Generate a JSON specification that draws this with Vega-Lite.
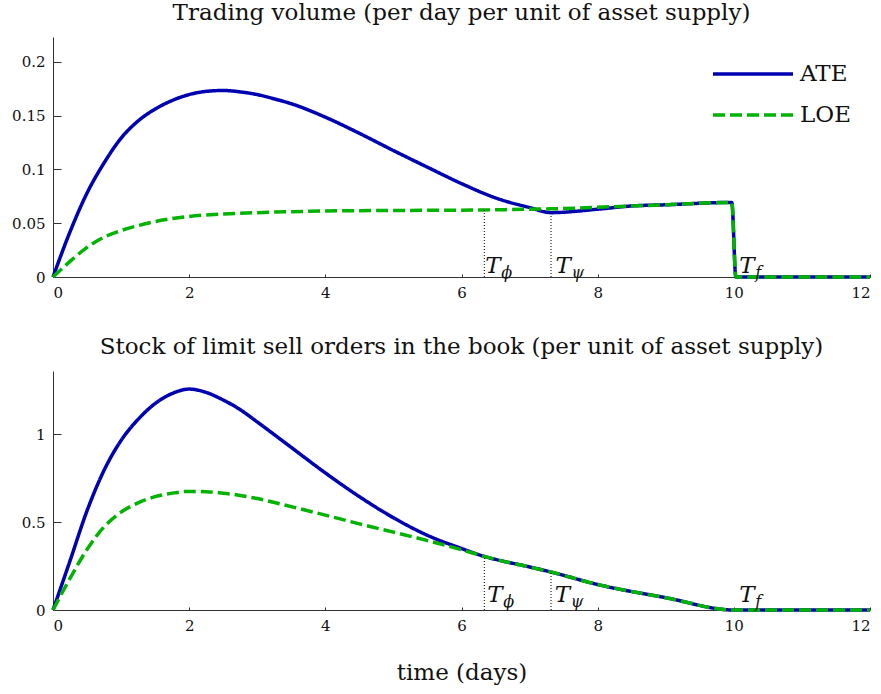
{
  "$schema": "https://vega.github.io/schema/vega-lite/v6.json",
  "background": "white",
  "padding": {"left": 11, "top": 2, "right": 5, "bottom": 5},
  "config": {
    "font": "DejaVu Serif",
    "view": {"stroke": null},
    "axis": {"grid": false, "domainColor": "#333333", "tickColor": "#333333", "labelColor": "#111111", "labelFont": "DejaVu Serif", "labelFontSize": 15, "titleFont": "DejaVu Serif", "titleFontWeight": "normal", "titleFontSize": 23, "titleColor": "#111111"},
    "title": {"font": "DejaVu Serif", "fontSize": 23, "fontWeight": "normal", "color": "#111111", "anchor": "middle"},
    "concat": {"spacing": 36}
  },
  "datasets": {
    "vol": [
      {"t": 0, "v": 0, "series": "ATE"}, {"t": 0.25, "v": 0.042, "series": "ATE"}, {"t": 0.5, "v": 0.078, "series": "ATE"}, {"t": 0.75, "v": 0.106, "series": "ATE"}, {"t": 1, "v": 0.129, "series": "ATE"}, {"t": 1.25, "v": 0.145, "series": "ATE"}, {"t": 1.5, "v": 0.156, "series": "ATE"}, {"t": 1.75, "v": 0.164, "series": "ATE"}, {"t": 2, "v": 0.1695, "series": "ATE"}, {"t": 2.25, "v": 0.1725, "series": "ATE"}, {"t": 2.5, "v": 0.1733, "series": "ATE"}, {"t": 2.75, "v": 0.172, "series": "ATE"}, {"t": 3, "v": 0.1695, "series": "ATE"}, {"t": 3.25, "v": 0.1655, "series": "ATE"}, {"t": 3.5, "v": 0.161, "series": "ATE"}, {"t": 4, "v": 0.1485, "series": "ATE"}, {"t": 4.5, "v": 0.1335, "series": "ATE"}, {"t": 5, "v": 0.1175, "series": "ATE"}, {"t": 5.5, "v": 0.102, "series": "ATE"}, {"t": 6, "v": 0.0868, "series": "ATE"}, {"t": 6.5, "v": 0.0735, "series": "ATE"}, {"t": 7, "v": 0.0645, "series": "ATE"}, {"t": 7.315, "v": 0.0598, "series": "ATE"}, {"t": 8, "v": 0.063, "series": "ATE"}, {"t": 8.5, "v": 0.066, "series": "ATE"}, {"t": 9, "v": 0.0671, "series": "ATE"}, {"t": 9.97, "v": 0.0693, "series": "ATE"}, {"t": 10.03, "v": 0, "series": "ATE"}, {"t": 12, "v": 0, "series": "ATE"},
      {"t": 0, "v": 0, "series": "LOE"}, {"t": 0.25, "v": 0.0145, "series": "LOE"}, {"t": 0.5, "v": 0.0275, "series": "LOE"}, {"t": 0.75, "v": 0.037, "series": "LOE"}, {"t": 1, "v": 0.0432, "series": "LOE"}, {"t": 1.25, "v": 0.0477, "series": "LOE"}, {"t": 1.5, "v": 0.0515, "series": "LOE"}, {"t": 1.75, "v": 0.0543, "series": "LOE"}, {"t": 2, "v": 0.0563, "series": "LOE"}, {"t": 2.5, "v": 0.0585, "series": "LOE"}, {"t": 3, "v": 0.0598, "series": "LOE"}, {"t": 3.5, "v": 0.0607, "series": "LOE"}, {"t": 4, "v": 0.0613, "series": "LOE"}, {"t": 5, "v": 0.0618, "series": "LOE"}, {"t": 6, "v": 0.0621, "series": "LOE"}, {"t": 6.335, "v": 0.0623, "series": "LOE"}, {"t": 7, "v": 0.063, "series": "LOE"}, {"t": 7.315, "v": 0.0633, "series": "LOE"}, {"t": 8.5, "v": 0.066, "series": "LOE"}, {"t": 9, "v": 0.0671, "series": "LOE"}, {"t": 9.97, "v": 0.0693, "series": "LOE"}, {"t": 10.03, "v": 0, "series": "LOE"}, {"t": 12, "v": 0, "series": "LOE"}
    ],
    "volRules": [
      {"t": 6.335, "y0": 0, "y1": 0.0623}, {"t": 7.315, "y0": 0, "y1": 0.0598}
    ],
    "volLabels": [
      {"t": 6.35, "main": "T", "sub": "ϕ"}, {"t": 7.38, "main": "T", "sub": "ψ"}, {"t": 10.08, "main": "T", "sub": "f"}
    ],
    "stock": [
      {"t": 0, "v": 0, "series": "ATE"}, {"t": 0.25, "v": 0.28, "series": "ATE"}, {"t": 0.5, "v": 0.565, "series": "ATE"}, {"t": 0.75, "v": 0.795, "series": "ATE"}, {"t": 1, "v": 0.965, "series": "ATE"}, {"t": 1.25, "v": 1.085, "series": "ATE"}, {"t": 1.5, "v": 1.175, "series": "ATE"}, {"t": 1.75, "v": 1.232, "series": "ATE"}, {"t": 2, "v": 1.257, "series": "ATE"}, {"t": 2.25, "v": 1.238, "series": "ATE"}, {"t": 2.5, "v": 1.195, "series": "ATE"}, {"t": 2.75, "v": 1.14, "series": "ATE"}, {"t": 3, "v": 1.07, "series": "ATE"}, {"t": 3.5, "v": 0.925, "series": "ATE"}, {"t": 4, "v": 0.78, "series": "ATE"}, {"t": 4.5, "v": 0.645, "series": "ATE"}, {"t": 5, "v": 0.525, "series": "ATE"}, {"t": 5.5, "v": 0.425, "series": "ATE"}, {"t": 6, "v": 0.35, "series": "ATE"}, {"t": 6.335, "v": 0.305, "series": "ATE"}, {"t": 6.5, "v": 0.288, "series": "ATE"}, {"t": 7, "v": 0.245, "series": "ATE"}, {"t": 7.315, "v": 0.216, "series": "ATE"}, {"t": 8, "v": 0.145, "series": "ATE"}, {"t": 9, "v": 0.07, "series": "ATE"}, {"t": 10, "v": 0, "series": "ATE"}, {"t": 12, "v": 0, "series": "ATE"},
      {"t": 0, "v": 0, "series": "LOE"}, {"t": 0.25, "v": 0.18, "series": "LOE"}, {"t": 0.5, "v": 0.345, "series": "LOE"}, {"t": 0.75, "v": 0.473, "series": "LOE"}, {"t": 1, "v": 0.557, "series": "LOE"}, {"t": 1.25, "v": 0.61, "series": "LOE"}, {"t": 1.5, "v": 0.645, "series": "LOE"}, {"t": 1.75, "v": 0.665, "series": "LOE"}, {"t": 2, "v": 0.675, "series": "LOE"}, {"t": 2.25, "v": 0.673, "series": "LOE"}, {"t": 2.5, "v": 0.665, "series": "LOE"}, {"t": 2.75, "v": 0.652, "series": "LOE"}, {"t": 3, "v": 0.634, "series": "LOE"}, {"t": 3.5, "v": 0.588, "series": "LOE"}, {"t": 4, "v": 0.54, "series": "LOE"}, {"t": 4.5, "v": 0.49, "series": "LOE"}, {"t": 5, "v": 0.443, "series": "LOE"}, {"t": 5.5, "v": 0.395, "series": "LOE"}, {"t": 6, "v": 0.343, "series": "LOE"}, {"t": 6.335, "v": 0.305, "series": "LOE"}, {"t": 6.5, "v": 0.288, "series": "LOE"}, {"t": 7, "v": 0.245, "series": "LOE"}, {"t": 7.315, "v": 0.216, "series": "LOE"}, {"t": 8, "v": 0.145, "series": "LOE"}, {"t": 9, "v": 0.07, "series": "LOE"}, {"t": 10, "v": 0, "series": "LOE"}, {"t": 12, "v": 0, "series": "LOE"}
    ],
    "stockRules": [
      {"t": 6.335, "y0": 0, "y1": 0.305}, {"t": 7.315, "y0": 0, "y1": 0.216}
    ],
    "stockLabels": [
      {"t": 6.38, "main": "T", "sub": "ϕ"}, {"t": 7.37, "main": "T", "sub": "ψ"}, {"t": 10.08, "main": "T", "sub": "f"}
    ]
  },
  "vconcat": [
    {
      "width": 817,
      "height": 240,
      "title": {"text": "Trading volume (per day per unit of asset supply)", "offset": 12},
      "layer": [
        {
          "data": {"name": "vol"},
          "mark": {"type": "line", "strokeWidth": 3.5, "interpolate": "monotone"},
          "encoding": {
            "x": {"field": "t", "type": "quantitative", "scale": {"domain": [0, 12], "nice": false}, "axis": {"values": [0, 2, 4, 6, 8, 10, 12], "format": "d", "tickSize": -3, "labelPadding": 11, "title": null}},
            "y": {"field": "v", "type": "quantitative", "scale": {"domain": [0, 0.223], "nice": false}, "axis": {"values": [0, 0.05, 0.1, 0.15, 0.2], "format": "~g", "tickSize": -8, "labelPadding": 16, "title": null}},
            "color": {"field": "series", "type": "nominal", "scale": {"domain": ["ATE", "LOE"], "range": ["#0000b3", "#00b300"]}, "legend": {"title": null, "orient": "none", "legendX": 658, "legendY": 15, "symbolType": "M-1,0H3", "symbolSize": 1600, "symbolStrokeWidth": 3.5, "labelFontSize": 23, "labelFont": "DejaVu Serif", "labelColor": "#111111", "labelOffset": 45, "rowPadding": 7, "padding": 0}},
            "strokeDash": {"field": "series", "type": "nominal", "scale": {"domain": ["ATE", "LOE"], "range": [[1, 0], [12, 5]]}, "legend": {"title": null, "orient": "none", "legendX": 658, "legendY": 15, "symbolType": "M-1,0H3", "symbolSize": 1600, "symbolStrokeWidth": 3.5, "labelFontSize": 23, "labelFont": "DejaVu Serif", "labelColor": "#111111", "labelOffset": 45, "rowPadding": 7, "padding": 0}}
          }
        },
        {
          "data": {"name": "volRules"},
          "mark": {"type": "rule", "color": "black", "strokeWidth": 1, "strokeDash": [1, 2]},
          "encoding": {
            "x": {"field": "t", "type": "quantitative"},
            "y": {"field": "y0", "type": "quantitative"},
            "y2": {"field": "y1"}
          }
        },
        {
          "data": {"name": "volLabels"},
          "mark": {"type": "text", "fontStyle": "italic", "fontSize": 23, "align": "left", "baseline": "alphabetic", "dy": -4, "color": "#111111"},
          "encoding": {
            "x": {"field": "t", "type": "quantitative"},
            "y": {"datum": 0, "type": "quantitative"},
            "text": {"field": "main"}
          }
        },
        {
          "data": {"name": "volLabels"},
          "mark": {"type": "text", "fontStyle": "italic", "fontSize": 16, "align": "left", "baseline": "alphabetic", "dx": 16, "dy": 1, "color": "#111111"},
          "encoding": {
            "x": {"field": "t", "type": "quantitative"},
            "y": {"datum": 0, "type": "quantitative"},
            "text": {"field": "sub"}
          }
        }
      ]
    },
    {
      "width": 817,
      "height": 239,
      "title": {"text": "Stock of limit sell orders in the book (per unit of asset supply)", "offset": 12},
      "layer": [
        {
          "data": {"name": "stock"},
          "mark": {"type": "line", "strokeWidth": 3.5, "interpolate": "monotone"},
          "encoding": {
            "x": {"field": "t", "type": "quantitative", "scale": {"domain": [0, 12], "nice": false}, "axis": {"values": [0, 2, 4, 6, 8, 10, 12], "format": "d", "tickSize": -3, "labelPadding": 11, "title": "time (days)", "titlePadding": 28}},
            "y": {"field": "v", "type": "quantitative", "scale": {"domain": [0, 1.36], "nice": false}, "axis": {"values": [0, 0.5, 1], "format": "~g", "tickSize": -8, "labelPadding": 16, "title": null}},
            "color": {"field": "series", "type": "nominal", "scale": {"domain": ["ATE", "LOE"], "range": ["#0000b3", "#00b300"]}, "legend": {"title": null, "orient": "none", "legendX": 658, "legendY": 17, "symbolType": "M-1,0H3", "symbolSize": 1600, "symbolStrokeWidth": 3.5, "labelFontSize": 23, "labelFont": "DejaVu Serif", "labelColor": "#111111", "labelOffset": 45, "rowPadding": 6, "padding": 0}},
            "strokeDash": {"field": "series", "type": "nominal", "scale": {"domain": ["ATE", "LOE"], "range": [[1, 0], [12, 5]]}, "legend": {"title": null, "orient": "none", "legendX": 658, "legendY": 17, "symbolType": "M-1,0H3", "symbolSize": 1600, "symbolStrokeWidth": 3.5, "labelFontSize": 23, "labelFont": "DejaVu Serif", "labelColor": "#111111", "labelOffset": 45, "rowPadding": 6, "padding": 0}}
          }
        },
        {
          "data": {"name": "stockRules"},
          "mark": {"type": "rule", "color": "black", "strokeWidth": 1, "strokeDash": [1, 2]},
          "encoding": {
            "x": {"field": "t", "type": "quantitative"},
            "y": {"field": "y0", "type": "quantitative"},
            "y2": {"field": "y1"}
          }
        },
        {
          "data": {"name": "stockLabels"},
          "mark": {"type": "text", "fontStyle": "italic", "fontSize": 23, "align": "left", "baseline": "alphabetic", "dy": -8, "color": "#111111"},
          "encoding": {
            "x": {"field": "t", "type": "quantitative"},
            "y": {"datum": 0, "type": "quantitative"},
            "text": {"field": "main"}
          }
        },
        {
          "data": {"name": "stockLabels"},
          "mark": {"type": "text", "fontStyle": "italic", "fontSize": 16, "align": "left", "baseline": "alphabetic", "dx": 16, "dy": -3, "color": "#111111"},
          "encoding": {
            "x": {"field": "t", "type": "quantitative"},
            "y": {"datum": 0, "type": "quantitative"},
            "text": {"field": "sub"}
          }
        }
      ]
    }
  ]
}
